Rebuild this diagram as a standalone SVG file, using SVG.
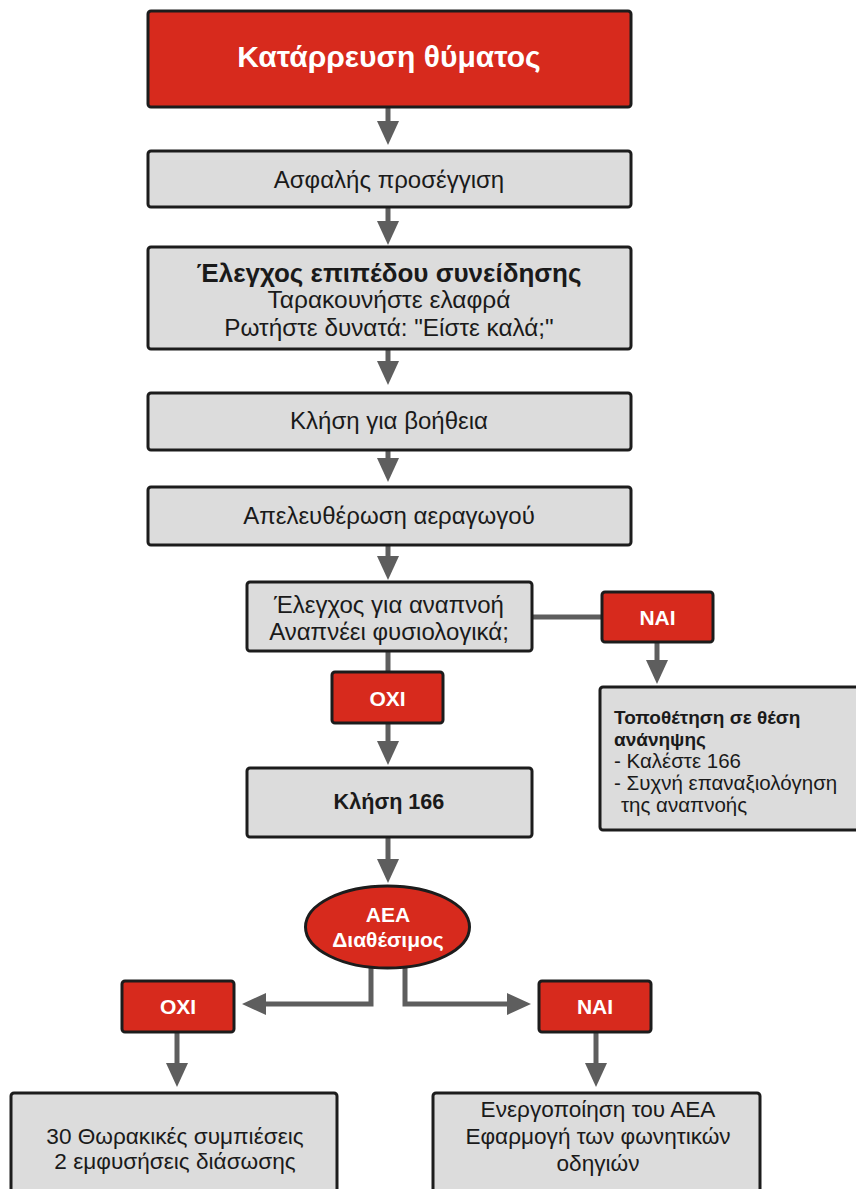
<svg xmlns="http://www.w3.org/2000/svg" width="856" height="1189" viewBox="0 0 856 1189">
<style>
.box{fill:#dcdcdc;stroke:#1c1c1c;stroke-width:3}
.red{fill:#d72a1d;stroke:#1c1c1c;stroke-width:3}
.t{font-family:"Liberation Sans",Arial,sans-serif;fill:#1a1a1a;text-anchor:middle}
.l{font-family:"Liberation Sans",Arial,sans-serif;fill:#1a1a1a;text-anchor:start}
.b{font-family:"Liberation Sans",Arial,sans-serif;font-weight:bold;fill:#1a1a1a}
.w{font-family:"Liberation Sans",Arial,sans-serif;font-weight:bold;fill:#ffffff;text-anchor:middle}
.c{fill:none;stroke:#5e5e5e;stroke-width:5}
</style>
<defs>
<marker id="ah" markerUnits="userSpaceOnUse" markerWidth="24" markerHeight="24" viewBox="0 0 24 24" refX="12" refY="12" orient="auto">
<path d="M0,1 L24,12 L0,23 Z" fill="#5e5e5e"/>
</marker>
</defs>
<rect width="856" height="1189" fill="#ffffff"/>
<g id="connectors">
<line class="c" x1="388" y1="107" x2="388" y2="133" marker-end="url(#ah)"/>
<line class="c" x1="388" y1="207" x2="388" y2="233" marker-end="url(#ah)"/>
<line class="c" x1="388" y1="349" x2="388" y2="373" marker-end="url(#ah)"/>
<line class="c" x1="388" y1="450" x2="388" y2="470" marker-end="url(#ah)"/>
<line class="c" x1="388" y1="545" x2="388" y2="568" marker-end="url(#ah)"/>
<line class="c" x1="388" y1="651" x2="388" y2="672"/>
<line class="c" x1="388" y1="723" x2="388" y2="753" marker-end="url(#ah)"/>
<line class="c" x1="532" y1="617" x2="602" y2="617"/>
<line class="c" x1="657" y1="642" x2="657" y2="672" marker-end="url(#ah)"/>
<line class="c" x1="388" y1="837" x2="388" y2="871" marker-end="url(#ah)"/>
<polyline class="c" points="371,966 371,1004 254,1004" marker-end="url(#ah)"/>
<polyline class="c" points="405,966 405,1004 519,1004" marker-end="url(#ah)"/>
<line class="c" x1="177" y1="1032" x2="177" y2="1075" marker-end="url(#ah)"/>
<line class="c" x1="596" y1="1032" x2="596" y2="1075" marker-end="url(#ah)"/>
</g>
<g id="n_collapse">
<rect class="red" x="148" y="11" width="483" height="96" rx="3"/>
<text class="w" x="389" y="67" font-size="30">Κατάρρευση θύματος</text>
</g>
<g id="n_approach">
<rect class="box" x="148" y="151" width="483" height="56" rx="3"/>
<text class="t" x="389" y="188" font-size="24">Ασφαλής προσέγγιση</text>
</g>
<g id="n_conscious">
<rect class="box" x="148" y="247" width="483" height="102" rx="3"/>
<text class="b" x="389" y="282" font-size="26" text-anchor="middle">Έλεγχος επιπέδου συνείδησης</text>
<text class="t" x="389" y="308" font-size="24.5">Ταρακουνήστε ελαφρά</text>
<text class="t" x="389" y="336" font-size="24.3">Ρωτήστε δυνατά: "Είστε καλά;"</text>
</g>
<g id="n_help">
<rect class="box" x="148" y="393" width="483" height="57" rx="3"/>
<text class="t" x="389" y="429" font-size="24">Κλήση για βοήθεια</text>
</g>
<g id="n_airway">
<rect class="box" x="148" y="487" width="483" height="58" rx="3"/>
<text class="t" x="389" y="524" font-size="24">Απελευθέρωση αεραγωγού</text>
</g>
<g id="n_breath">
<rect class="box" x="247" y="582" width="285" height="69" rx="3"/>
<text class="t" x="389" y="613" font-size="24">Έλεγχος για αναπνοή</text>
<text class="t" x="389" y="640" font-size="24">Αναπνέει φυσιολογικά;</text>
</g>
<g id="n_yes1">
<rect class="red" x="602" y="592" width="111" height="50" rx="3"/>
<text class="w" x="657.5" y="625" font-size="21">NAI</text>
</g>
<g id="n_recovery">
<rect class="box" x="600" y="687" width="270" height="143" rx="3"/>
<text class="b" x="614" y="724" font-size="19">Τοποθέτηση σε θέση</text>
<text class="b" x="614" y="746" font-size="19">ανάνηψης</text>
<text class="l" x="614" y="768" font-size="20.5">- Καλέστε 166</text>
<text class="l" x="614" y="790" font-size="20.5">- Συχνή επαναξιολόγηση</text>
<text class="l" x="621" y="812" font-size="20.5">της αναπνοής</text>
</g>
<g id="n_no1">
<rect class="red" x="332" y="672" width="111" height="51" rx="3"/>
<text class="w" x="387.5" y="706" font-size="21">OXI</text>
</g>
<g id="n_call166">
<rect class="box" x="247" y="768" width="285" height="69" rx="3"/>
<text class="b" x="389" y="809" font-size="21.6" text-anchor="middle">Κλήση 166</text>
</g>
<g id="n_aed">
<ellipse cx="387.5" cy="927" rx="82" ry="41" fill="#d72a1d" stroke="#1c1c1c" stroke-width="3"/>
<text class="w" x="388" y="922" font-size="21">ΑΕΑ</text>
<text class="w" x="388" y="947" font-size="21">Διαθέσιμος</text>
</g>
<g id="n_no2">
<rect class="red" x="122" y="981" width="112" height="51" rx="3"/>
<text class="w" x="178" y="1014" font-size="21">OXI</text>
</g>
<g id="n_yes2">
<rect class="red" x="539" y="981" width="112" height="51" rx="3"/>
<text class="w" x="595" y="1014" font-size="21">NAI</text>
</g>
<g id="n_cpr">
<rect class="box" x="11" y="1093" width="326" height="110" rx="3"/>
<text class="t" x="175" y="1144" font-size="22.6">30 Θωρακικές συμπιέσεις</text>
<text class="t" x="175" y="1169" font-size="22.6">2 εμφυσήσεις διάσωσης</text>
</g>
<g id="n_use_aed">
<rect class="box" x="433" y="1093" width="327" height="110" rx="3"/>
<text class="t" x="598" y="1117" font-size="22.6">Ενεργοποίηση του ΑΕΑ</text>
<text class="t" x="598" y="1144" font-size="22.6">Εφαρμογή των φωνητικών</text>
<text class="t" x="598" y="1171" font-size="22.6">οδηγιών</text>
</g>
</svg>
